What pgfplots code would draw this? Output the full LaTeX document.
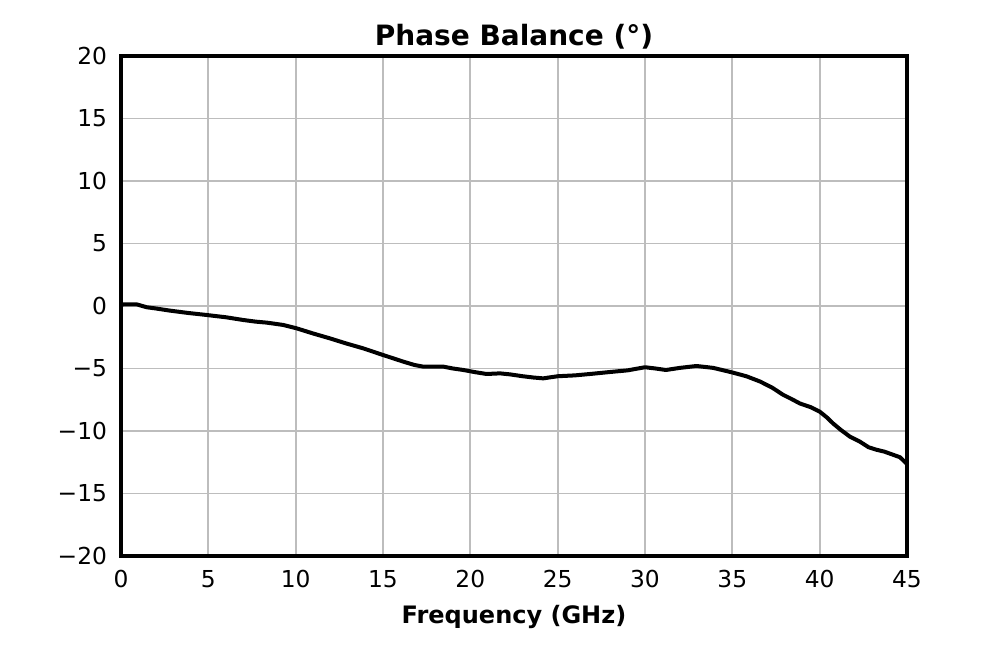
\documentclass[border=0pt]{standalone}
\usepackage{pgfplots}
\pgfplotsset{compat=1.18}
\usepackage{fontspec}
\setmainfont{DejaVu Sans}
\begin{document}
\begin{tikzpicture}[x=1pt,y=1pt]
\useasboundingbox (-90.75pt,-69pt) rectangle (665.25pt,417pt);
\begin{axis}[
  at={(0,0)}, anchor=south west,
  scale only axis, width=589.5pt, height=375pt,
  xmin=0, xmax=45, ymin=-20, ymax=20,
  xtick={0,5,...,45}, ytick={-20,-15,...,20},
  yticklabels={−20,−15,−10,−5,0,5,10,15,20},
  /pgf/number format/assume math mode=true,
  major tick length=0pt,
  grid=major,
  major grid style={line width=1.3pt, color=black!26},
  axis line style={line width=2.3pt},
  tick label style={font=\fontsize{17.5}{21}\selectfont},
  xticklabel style={yshift=-7pt},
  yticklabel style={xshift=-7pt},
  title={\bfseries Phase Balance (°)},
  title style={font=\fontsize{21}{25}\selectfont, yshift=-4.5pt},
  xlabel={\bfseries Frequency (GHz)},
  xlabel style={font=\fontsize{18}{22}\selectfont, yshift=-6pt},
]
\addplot[black, line width=3pt, line join=round] coordinates {
(0,0.05) (0.13,0.13) (0.9,0.13) (1.47,-0.1) (2.0,-0.2) (2.8,-0.37) (3.8,-0.55) (4.9,-0.72)
(6.0,-0.9) (7.0,-1.12) (7.7,-1.25) (8.34,-1.33) (9.3,-1.52) (10.06,-1.79) (11.0,-2.2)
(11.96,-2.59) (12.9,-3.0) (13.87,-3.39) (15.0,-3.92) (16.16,-4.45) (16.8,-4.72) (17.3,-4.85)
(18.45,-4.85) (19.0,-5.0) (19.6,-5.12) (20.3,-5.3) (20.93,-5.44) (21.7,-5.39) (22.27,-5.47)
(23.0,-5.62) (23.6,-5.72) (24.17,-5.79) (25.0,-5.62) (26.0,-5.55) (27.0,-5.42) (28.0,-5.28)
(29.0,-5.15) (30.0,-4.9) (30.6,-5.0) (31.2,-5.12) (32.0,-4.95) (32.95,-4.8) (33.9,-4.95)
(34.95,-5.3) (35.8,-5.62) (36.6,-6.05) (37.3,-6.55) (37.9,-7.1) (38.4,-7.45) (38.87,-7.8)
(39.5,-8.1) (40.0,-8.45) (40.4,-8.9) (40.77,-9.4) (41.2,-9.9) (41.73,-10.45) (42.3,-10.85)
(42.8,-11.3) (43.25,-11.5) (43.7,-11.65) (44.2,-11.9) (44.6,-12.1) (44.97,-12.6)
};
\end{axis}
\end{tikzpicture}
\end{document}
